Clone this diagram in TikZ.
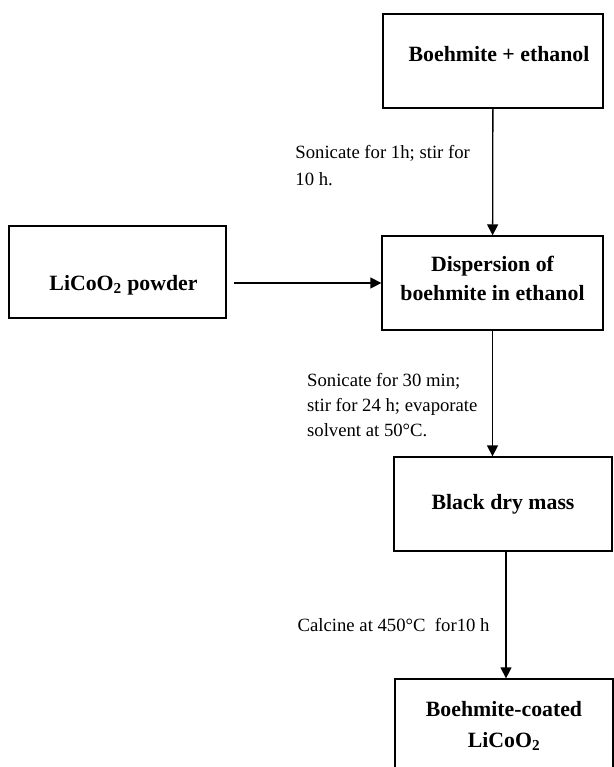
\documentclass[tikz,border=0pt]{standalone}
\usepackage{fontspec}
\setmainfont{Liberation Serif}
\usetikzlibrary{arrows.meta}
\tikzset{every scope/.style={>={Triangle[length=11pt,width=11pt]},line width=1.3pt}}
\tikzstyle{process_box} =
  [ rectangle
  , draw
  , minimum width=220pt
  , minimum height=94pt
  , inner sep=0pt
  , align=center
  , font=\fontsize{21.8}{29}\selectfont\bfseries
  ]
\tikzstyle{step_note} =
  [ anchor=west
  , inner sep=0pt
  , align=left
  , font=\fontsize{18.7}{26}\selectfont
  ]
\def\LiCoO{LiCoO\textsubscript{2}}

\begin{document}
\begin{tikzpicture}[x=1pt,y=-1pt]
  \useasboundingbox (0,0) rectangle (613,767);
  \begin{scope}
    \node[process_box,text height=10pt,text depth=8pt]  (boehmite_ethanol) at (493,61)    {\hspace*{12pt}Boehmite + ethanol};
    \node[process_box,minimum width=217pt,minimum height=92pt,text height=40pt,text depth=4pt]
                                                       (licoo2_powder)    at (117.5,272) {\hspace*{12pt}\LiCoO{} powder};
    \node[process_box,minimum width=221pt,text depth=9pt] (dispersion)    at (492.5,283) {Dispersion of\\boehmite in ethanol};
    \node[process_box,minimum width=218pt,text depth=4pt] (dry_mass)     at (503,504)    {Black dry mass};
    \node[process_box,minimum width=218pt,minimum height=93pt,text depth=3pt]
                                                       (coated_licoo2)    at (504,725.5)  {Boehmite-coated\\[2pt]\LiCoO};

    % mixing of the boehmite
    \draw[->] (boehmite_ethanol) -- node[step_note,pos=0.45,xshift=-198pt,font=\fontsize{18.7}{27}\selectfont] (sonicate_note)
      {Sonicate for 1h; stir for\\10 h.} (dispersion);

    \coordinate (powder_out) at (234,283);
    \draw[->] (powder_out) -- (dispersion.west);

    % drying
    \draw[->] (dispersion.south) -- node[step_note,xshift=-186pt,yshift=-12pt,font=\fontsize{18.7}{25}\selectfont] (evaporate_note)
      {Sonicate for 30 min;\\stir for 24 h; evaporate\\solvent at 50°C.} (dispersion.south |- dry_mass.north);

    % calcination
    \draw[->] ([xshift=3pt]dry_mass.south) -- node[step_note,xshift=-209pt,yshift=-10pt] (calcine_note)
      {Calcine at 450°C\ \ for10 h} ([xshift=3pt]dry_mass.south |- coated_licoo2.north);
  \end{scope}
\end{tikzpicture}
\end{document}
